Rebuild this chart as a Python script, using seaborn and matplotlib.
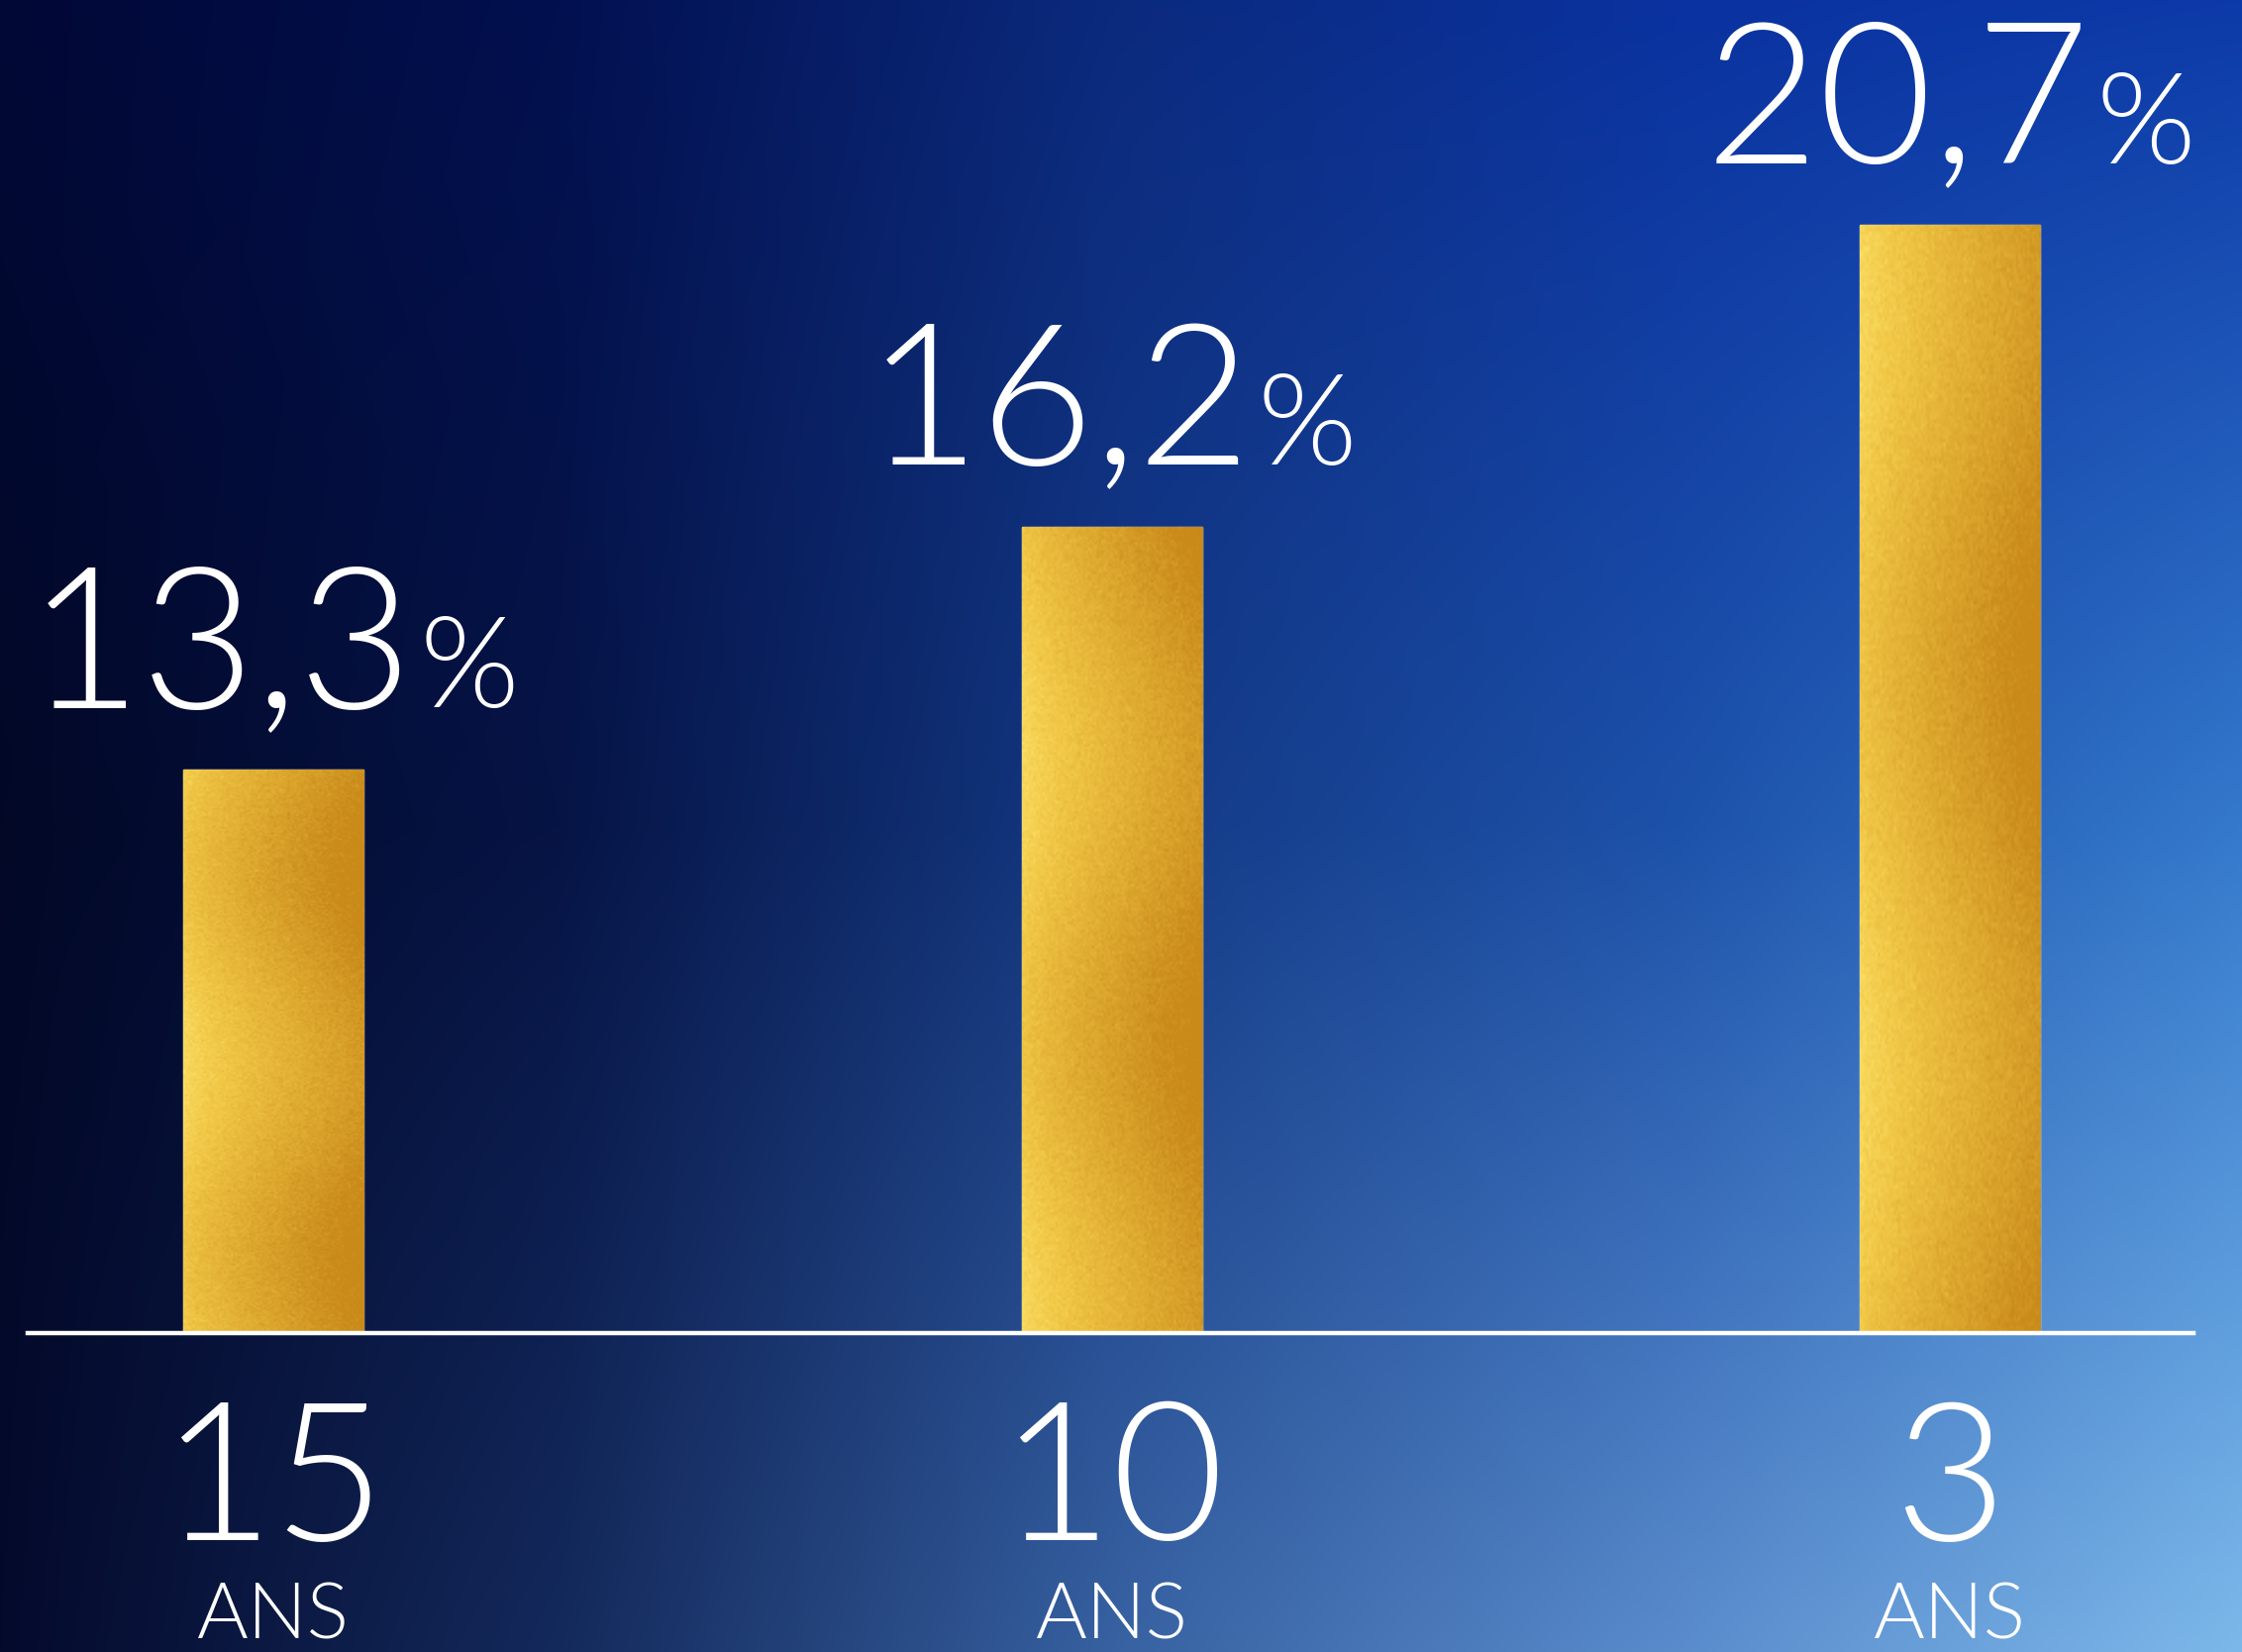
import numpy as np
import matplotlib
matplotlib.use("Agg")
import matplotlib.pyplot as plt
import seaborn as sns
from matplotlib.colors import LinearSegmentedColormap, to_rgb

# data
periods = ["15", "10", "3"]
unit_label = "ANS"
returns = [13.3, 16.2, 20.7]

sns.set_theme(style="white")
plt.rcParams["font.family"] = ["Lato", "DejaVu Sans"]

DPI = 100
fig = plt.figure(figsize=(22.64, 16.68), dpi=DPI)

# background: smooth blend of a grid of colours (rows top->bottom, cols left->right)
bg_grid = [["#010836", "#021050", "#0b2a7e", "#0a32a0", "#0c3aa8"],
           ["#020826", "#061445", "#143a85", "#1d52aa", "#3479cc"],
           ["#040a2c", "#142a5c", "#3862a2", "#5a8ccc", "#7db8ea"]]
ctrl = np.array([[to_rgb(c) for c in row] for row in bg_grid])
h, w = 420, 560
xs = np.linspace(0, 1, w)
ys = np.linspace(0, 1, h)
xk = np.linspace(0, 1, ctrl.shape[1])
yk = np.linspace(0, 1, ctrl.shape[0])
rows = np.stack([[np.interp(xs, xk, ctrl[r, :, ch]) for ch in range(3)] for r in range(ctrl.shape[0])])
img = np.empty((h, w, 3))
for ch in range(3):
    for j in range(w):
        img[:, j, ch] = np.interp(ys, yk, rows[:, ch, j])

bg_ax = fig.add_axes([0, 0, 1, 1], zorder=0)
bg_ax.imshow(img, aspect="auto", extent=[0, 1, 0, 1], interpolation="bilinear")
bg_ax.set_axis_off()

ax = fig.add_axes([0, 0.193, 1, 0.807], zorder=1)
ax.patch.set_alpha(0)

sns.barplot(x=periods, y=returns, order=periods, color="#e3b23a", width=0.215, ax=ax, zorder=2)
ax.set_yscale("log")
ax.set_xlim(-0.326, 2.348)
ax.set_ylim(8.41, 24.85)
ax.set_ylabel("")
ax.set_xlabel("")
ax.set_yticks([])
ax.yaxis.set_minor_locator(matplotlib.ticker.NullLocator())
for side in ["top", "left", "right"]:
    ax.spines[side].set_visible(False)
ax.spines["bottom"].set_color("white")
ax.spines["bottom"].set_linewidth(3.2)
ax.spines["bottom"].set_bounds(-0.293, 2.29)
ax.spines["bottom"].set_zorder(5)

ax.set_xticks(range(len(periods)))
ax.set_xticklabels(periods, fontsize=141, color="white", fontweight=300)
ax.tick_params(axis="x", length=0, pad=48)

for i in range(len(periods)):
    ax.annotate(unit_label, (i, 0), xycoords=ax.get_xaxis_transform(), xytext=(0, -181),
                textcoords="offset points", ha="center", va="top", fontsize=57,
                color="white", fontweight=300)

# value labels: big number + smaller percent sign, centred together over the bar
labels = []
for i, v in enumerate(returns):
    num = f"{v:.1f}".replace(".", ",")
    t1 = ax.annotate(num, (i, v), xytext=(0, 45), textcoords="offset points", ha="left",
                     va="baseline", fontsize=143, color="white", fontweight=300)
    t2 = ax.annotate("%", (i, v), xytext=(0, 45), textcoords="offset points", ha="left",
                     va="baseline", fontsize=93, color="white", fontweight=300)
    labels.append((t1, t2))

fig.canvas.draw()
r = fig.canvas.get_renderer()

# gold leaf texture clipped to each bar (placed in axes coords)
gold = LinearSegmentedColormap.from_list("gold", ["#fce46c", "#f1c746", "#deaa30", "#c98a1a"])
rng = np.random.default_rng(3)
th, tw = 300, 80
gx, gy = np.meshgrid(np.linspace(0, 1, tw), np.linspace(0, 1, th))
to_axes = ax.transAxes.inverted()
for k, p in enumerate(ax.patches):
    tex = 0.25 + 0.7 * gx**0.8 + 0.12 * np.sin(gy * 9.0 + k * 2.1) + rng.normal(0, 0.05, gx.shape)
    (x0, y0), (x1, y1) = to_axes.transform(p.get_window_extent(r).get_points())
    im = ax.imshow(np.clip(tex, 0, 1), cmap=gold, vmin=0, vmax=1, aspect="auto",
                   extent=[x0, x1, max(y0, 0), y1], transform=ax.transAxes,
                   interpolation="bilinear", zorder=3)
    im.set_clip_path(p)
ax.set_xlim(-0.326, 2.348)
ax.set_ylim(8.41, 24.85)

gap = 6
for t1, t2 in labels:
    w1 = t1.get_window_extent(r).width
    w2 = t2.get_window_extent(r).width
    total = w1 + gap + w2
    x0 = -total / 2 * 72 / DPI
    t1.set_position((x0, 45))
    t2.set_position((x0 + (w1 + gap) * 72 / DPI, 45))

fig.savefig("out.png", dpi=DPI)
plt.close(fig)
